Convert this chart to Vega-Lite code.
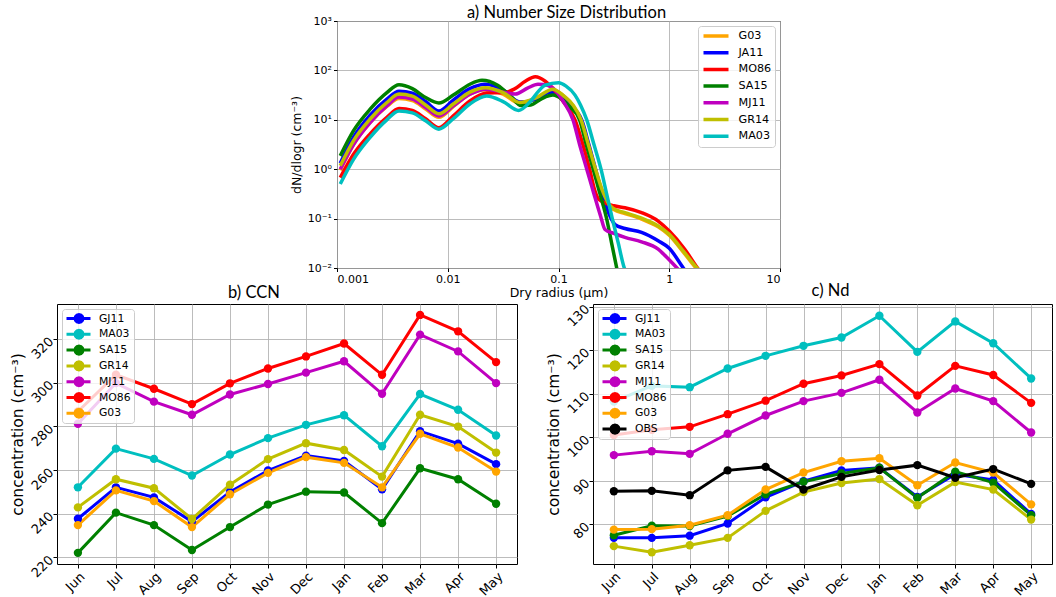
{
  "$schema": "https://vega.github.io/schema/vega-lite/v6.json",
  "padding": {"left": 9, "top": 4, "right": 2, "bottom": 2},
  "config": {
    "view": {"stroke": "black", "strokeWidth": 1},
    "font": "DejaVu Sans",
    "axis": {"gridColor": "#b0b0b0", "gridOpacity": 0.85, "gridWidth": 1, "domain": false, "tickColor": "black", "tickSize": 4, "labelColor": "black", "titleColor": "black", "labelFont": "DejaVu Sans", "titleFont": "DejaVu Sans", "titleFontWeight": "normal", "labelFontSize": 13, "titleFontSize": 15.5},
    "title": {"font": "Lato", "fontSize": 16.5, "fontWeight": "normal", "color": "black", "offset": 3},
    "legend": {"title": null, "padding": 3, "fillColor": "rgba(255,255,255,0.8)", "strokeColor": "#cccccc", "cornerRadius": 3, "labelFont": "DejaVu Sans", "labelColor": "black", "labelFontSize": 10.8, "clipHeight": 13}
  },
  "datasets": {
    "nsd": [
      {"model": "G03", "r": 0.00107, "N": 0.955}, {"model": "G03", "r": 0.00141, "N": 3.16}, {"model": "G03", "r": 0.002, "N": 8.91}, {"model": "G03", "r": 0.00282, "N": 18.6}, {"model": "G03", "r": 0.00363, "N": 26.9}, {"model": "G03", "r": 0.00479, "N": 24.5}, {"model": "G03", "r": 0.00631, "N": 16.6}, {"model": "G03", "r": 0.00832, "N": 11.2}, {"model": "G03", "r": 0.01122, "N": 18.6}, {"model": "G03", "r": 0.01585, "N": 33.1}, {"model": "G03", "r": 0.0219, "N": 40.7}, {"model": "G03", "r": 0.0316, "N": 33.1}, {"model": "G03", "r": 0.0447, "N": 21.4}, {"model": "G03", "r": 0.0631, "N": 26.9}, {"model": "G03", "r": 0.0891, "N": 39.8}, {"model": "G03", "r": 0.112, "N": 30.2}, {"model": "G03", "r": 0.135, "N": 19.1}, {"model": "G03", "r": 0.16, "N": 9.55}, {"model": "G03", "r": 0.186, "N": 3.0}, {"model": "G03", "r": 0.214, "N": 0.955}, {"model": "G03", "r": 0.251, "N": 0.34}, {"model": "G03", "r": 0.295, "N": 0.17}, {"model": "G03", "r": 0.316, "N": 0.152}, {"model": "G03", "r": 0.398, "N": 0.127}, {"model": "G03", "r": 0.562, "N": 0.098}, {"model": "G03", "r": 0.794, "N": 0.068}, {"model": "G03", "r": 1.0, "N": 0.046}, {"model": "G03", "r": 1.34, "N": 0.021}, {"model": "G03", "r": 1.76, "N": 0.0098}, {"model": "G03", "r": 1.9, "N": 0.0083},
      {"model": "JA11", "r": 0.00107, "N": 1.32}, {"model": "JA11", "r": 0.00141, "N": 4.47}, {"model": "JA11", "r": 0.002, "N": 12.6}, {"model": "JA11", "r": 0.00282, "N": 26.3}, {"model": "JA11", "r": 0.00363, "N": 38.0}, {"model": "JA11", "r": 0.00479, "N": 34.7}, {"model": "JA11", "r": 0.00631, "N": 23.4}, {"model": "JA11", "r": 0.00832, "N": 15.1}, {"model": "JA11", "r": 0.01122, "N": 25.1}, {"model": "JA11", "r": 0.01585, "N": 42.7}, {"model": "JA11", "r": 0.0219, "N": 52.5}, {"model": "JA11", "r": 0.0316, "N": 39.8}, {"model": "JA11", "r": 0.0447, "N": 22.9}, {"model": "JA11", "r": 0.0631, "N": 26.3}, {"model": "JA11", "r": 0.0832, "N": 35.5}, {"model": "JA11", "r": 0.1, "N": 33.1}, {"model": "JA11", "r": 0.12, "N": 22.4}, {"model": "JA11", "r": 0.162, "N": 10}, {"model": "JA11", "r": 0.188, "N": 3.16}, {"model": "JA11", "r": 0.216, "N": 1.0}, {"model": "JA11", "r": 0.245, "N": 0.355}, {"model": "JA11", "r": 0.272, "N": 0.166}, {"model": "JA11", "r": 0.324, "N": 0.0759}, {"model": "JA11", "r": 0.398, "N": 0.0631}, {"model": "JA11", "r": 0.562, "N": 0.0525}, {"model": "JA11", "r": 0.794, "N": 0.0355}, {"model": "JA11", "r": 1.0, "N": 0.0251}, {"model": "JA11", "r": 1.34, "N": 0.01}, {"model": "JA11", "r": 1.45, "N": 0.0079},
      {"model": "MO86", "r": 0.00107, "N": 0.676}, {"model": "MO86", "r": 0.00141, "N": 2.0}, {"model": "MO86", "r": 0.002, "N": 5.25}, {"model": "MO86", "r": 0.00282, "N": 11.2}, {"model": "MO86", "r": 0.00363, "N": 17.0}, {"model": "MO86", "r": 0.00479, "N": 15.5}, {"model": "MO86", "r": 0.00631, "N": 10.5}, {"model": "MO86", "r": 0.00832, "N": 6.92}, {"model": "MO86", "r": 0.01122, "N": 12.0}, {"model": "MO86", "r": 0.01585, "N": 24.0}, {"model": "MO86", "r": 0.0224, "N": 34.7}, {"model": "MO86", "r": 0.0316, "N": 35.5}, {"model": "MO86", "r": 0.0398, "N": 41.7}, {"model": "MO86", "r": 0.0501, "N": 60.3}, {"model": "MO86", "r": 0.0617, "N": 74.1}, {"model": "MO86", "r": 0.0759, "N": 60.3}, {"model": "MO86", "r": 0.0933, "N": 38.0}, {"model": "MO86", "r": 0.112, "N": 22.4}, {"model": "MO86", "r": 0.141, "N": 10}, {"model": "MO86", "r": 0.166, "N": 3.16}, {"model": "MO86", "r": 0.191, "N": 1.0}, {"model": "MO86", "r": 0.214, "N": 0.355}, {"model": "MO86", "r": 0.229, "N": 0.251}, {"model": "MO86", "r": 0.316, "N": 0.182}, {"model": "MO86", "r": 0.398, "N": 0.166}, {"model": "MO86", "r": 0.562, "N": 0.132}, {"model": "MO86", "r": 0.794, "N": 0.0891}, {"model": "MO86", "r": 1.0, "N": 0.0562}, {"model": "MO86", "r": 1.38, "N": 0.024}, {"model": "MO86", "r": 1.8, "N": 0.01}, {"model": "MO86", "r": 1.9, "N": 0.0085},
      {"model": "SA15", "r": 0.00107, "N": 1.86}, {"model": "SA15", "r": 0.00141, "N": 6.03}, {"model": "SA15", "r": 0.002, "N": 16.6}, {"model": "SA15", "r": 0.00282, "N": 35.5}, {"model": "SA15", "r": 0.00363, "N": 51.3}, {"model": "SA15", "r": 0.00479, "N": 42.7}, {"model": "SA15", "r": 0.00631, "N": 28.2}, {"model": "SA15", "r": 0.00832, "N": 21.9}, {"model": "SA15", "r": 0.01122, "N": 31.6}, {"model": "SA15", "r": 0.01585, "N": 52.5}, {"model": "SA15", "r": 0.0204, "N": 63.1}, {"model": "SA15", "r": 0.0282, "N": 50.1}, {"model": "SA15", "r": 0.038, "N": 28.2}, {"model": "SA15", "r": 0.0457, "N": 19.5}, {"model": "SA15", "r": 0.0562, "N": 20.0}, {"model": "SA15", "r": 0.0708, "N": 26.9}, {"model": "SA15", "r": 0.0891, "N": 31.6}, {"model": "SA15", "r": 0.107, "N": 26.3}, {"model": "SA15", "r": 0.126, "N": 18.6}, {"model": "SA15", "r": 0.155, "N": 10}, {"model": "SA15", "r": 0.178, "N": 3.16}, {"model": "SA15", "r": 0.206, "N": 1.0}, {"model": "SA15", "r": 0.237, "N": 0.316}, {"model": "SA15", "r": 0.272, "N": 0.1}, {"model": "SA15", "r": 0.302, "N": 0.0316}, {"model": "SA15", "r": 0.339, "N": 0.0089},
      {"model": "MJ11", "r": 0.00107, "N": 1.0}, {"model": "MJ11", "r": 0.00141, "N": 3.16}, {"model": "MJ11", "r": 0.002, "N": 8.91}, {"model": "MJ11", "r": 0.00282, "N": 19.1}, {"model": "MJ11", "r": 0.00363, "N": 28.8}, {"model": "MJ11", "r": 0.00479, "N": 26.3}, {"model": "MJ11", "r": 0.00631, "N": 17.8}, {"model": "MJ11", "r": 0.00832, "N": 12.0}, {"model": "MJ11", "r": 0.01122, "N": 19.1}, {"model": "MJ11", "r": 0.01585, "N": 33.1}, {"model": "MJ11", "r": 0.0224, "N": 41.7}, {"model": "MJ11", "r": 0.0316, "N": 36.3}, {"model": "MJ11", "r": 0.0407, "N": 33.1}, {"model": "MJ11", "r": 0.0525, "N": 43.7}, {"model": "MJ11", "r": 0.0653, "N": 52.5}, {"model": "MJ11", "r": 0.0794, "N": 50.1}, {"model": "MJ11", "r": 0.0933, "N": 39.8}, {"model": "MJ11", "r": 0.112, "N": 22.4}, {"model": "MJ11", "r": 0.135, "N": 10}, {"model": "MJ11", "r": 0.155, "N": 3.16}, {"model": "MJ11", "r": 0.18, "N": 1.0}, {"model": "MJ11", "r": 0.209, "N": 0.316}, {"model": "MJ11", "r": 0.24, "N": 0.112}, {"model": "MJ11", "r": 0.263, "N": 0.0603}, {"model": "MJ11", "r": 0.316, "N": 0.0501}, {"model": "MJ11", "r": 0.398, "N": 0.0417}, {"model": "MJ11", "r": 0.562, "N": 0.0339}, {"model": "MJ11", "r": 0.794, "N": 0.024}, {"model": "MJ11", "r": 0.891, "N": 0.019}, {"model": "MJ11", "r": 1.175, "N": 0.01}, {"model": "MJ11", "r": 1.3, "N": 0.0079},
      {"model": "GR14", "r": 0.00107, "N": 1.17}, {"model": "GR14", "r": 0.00141, "N": 3.8}, {"model": "GR14", "r": 0.002, "N": 10.5}, {"model": "GR14", "r": 0.00282, "N": 22.4}, {"model": "GR14", "r": 0.00363, "N": 33.1}, {"model": "GR14", "r": 0.00479, "N": 30.2}, {"model": "GR14", "r": 0.00631, "N": 20.0}, {"model": "GR14", "r": 0.00832, "N": 13.2}, {"model": "GR14", "r": 0.01122, "N": 20.9}, {"model": "GR14", "r": 0.01585, "N": 36.3}, {"model": "GR14", "r": 0.0219, "N": 44.7}, {"model": "GR14", "r": 0.0316, "N": 35.5}, {"model": "GR14", "r": 0.0447, "N": 22.4}, {"model": "GR14", "r": 0.0631, "N": 28.2}, {"model": "GR14", "r": 0.0891, "N": 41.7}, {"model": "GR14", "r": 0.112, "N": 30.2}, {"model": "GR14", "r": 0.135, "N": 20.0}, {"model": "GR14", "r": 0.16, "N": 10}, {"model": "GR14", "r": 0.186, "N": 3.16}, {"model": "GR14", "r": 0.216, "N": 1.0}, {"model": "GR14", "r": 0.251, "N": 0.355}, {"model": "GR14", "r": 0.295, "N": 0.178}, {"model": "GR14", "r": 0.316, "N": 0.158}, {"model": "GR14", "r": 0.398, "N": 0.132}, {"model": "GR14", "r": 0.562, "N": 0.102}, {"model": "GR14", "r": 0.794, "N": 0.0708}, {"model": "GR14", "r": 1.0, "N": 0.0479}, {"model": "GR14", "r": 1.34, "N": 0.0219}, {"model": "GR14", "r": 1.78, "N": 0.01}, {"model": "GR14", "r": 1.9, "N": 0.0085},
      {"model": "MA03", "r": 0.00107, "N": 0.5}, {"model": "MA03", "r": 0.00141, "N": 1.58}, {"model": "MA03", "r": 0.002, "N": 4.47}, {"model": "MA03", "r": 0.00282, "N": 10}, {"model": "MA03", "r": 0.00363, "N": 15.1}, {"model": "MA03", "r": 0.00479, "N": 13.8}, {"model": "MA03", "r": 0.00631, "N": 9.55}, {"model": "MA03", "r": 0.00832, "N": 6.46}, {"model": "MA03", "r": 0.01122, "N": 10.5}, {"model": "MA03", "r": 0.01585, "N": 20.9}, {"model": "MA03", "r": 0.0224, "N": 30.2}, {"model": "MA03", "r": 0.0316, "N": 23.4}, {"model": "MA03", "r": 0.0437, "N": 15.5}, {"model": "MA03", "r": 0.0562, "N": 24.0}, {"model": "MA03", "r": 0.0661, "N": 38.0}, {"model": "MA03", "r": 0.0759, "N": 50.1}, {"model": "MA03", "r": 0.1, "N": 56.2}, {"model": "MA03", "r": 0.117, "N": 47.9}, {"model": "MA03", "r": 0.141, "N": 31.6}, {"model": "MA03", "r": 0.158, "N": 20.0}, {"model": "MA03", "r": 0.18, "N": 10}, {"model": "MA03", "r": 0.209, "N": 3.16}, {"model": "MA03", "r": 0.242, "N": 1.0}, {"model": "MA03", "r": 0.272, "N": 0.316}, {"model": "MA03", "r": 0.306, "N": 0.1}, {"model": "MA03", "r": 0.347, "N": 0.0316}, {"model": "MA03", "r": 0.393, "N": 0.01}, {"model": "MA03", "r": 0.42, "N": 0.0075}
    ],
    "ccn": [
      {"model": "GJ11", "month": "Jun", "value": 237.7}, {"model": "GJ11", "month": "Jul", "value": 252.1}, {"model": "GJ11", "month": "Aug", "value": 247.5}, {"model": "GJ11", "month": "Sep", "value": 236.4}, {"model": "GJ11", "month": "Oct", "value": 250.0}, {"model": "GJ11", "month": "Nov", "value": 259.8}, {"model": "GJ11", "month": "Dec", "value": 266.6}, {"model": "GJ11", "month": "Jan", "value": 264.2}, {"model": "GJ11", "month": "Feb", "value": 251.2}, {"model": "GJ11", "month": "Mar", "value": 277.8}, {"model": "GJ11", "month": "Apr", "value": 272.1}, {"model": "GJ11", "month": "May", "value": 262.7},
      {"model": "MA03", "month": "Jun", "value": 252.1}, {"model": "MA03", "month": "Jul", "value": 269.8}, {"model": "MA03", "month": "Aug", "value": 265.1}, {"model": "MA03", "month": "Sep", "value": 257.5}, {"model": "MA03", "month": "Oct", "value": 267.1}, {"model": "MA03", "month": "Nov", "value": 274.6}, {"model": "MA03", "month": "Dec", "value": 280.7}, {"model": "MA03", "month": "Jan", "value": 285.1}, {"model": "MA03", "month": "Feb", "value": 270.9}, {"model": "MA03", "month": "Mar", "value": 294.8}, {"model": "MA03", "month": "Apr", "value": 287.6}, {"model": "MA03", "month": "May", "value": 275.8},
      {"model": "SA15", "month": "Jun", "value": 222.1}, {"model": "SA15", "month": "Jul", "value": 240.5}, {"model": "SA15", "month": "Aug", "value": 234.8}, {"model": "SA15", "month": "Sep", "value": 223.4}, {"model": "SA15", "month": "Oct", "value": 233.9}, {"model": "SA15", "month": "Nov", "value": 244.2}, {"model": "SA15", "month": "Dec", "value": 250.1}, {"model": "SA15", "month": "Jan", "value": 249.7}, {"model": "SA15", "month": "Feb", "value": 235.7}, {"model": "SA15", "month": "Mar", "value": 260.8}, {"model": "SA15", "month": "Apr", "value": 255.8}, {"model": "SA15", "month": "May", "value": 244.6},
      {"model": "GR14", "month": "Jun", "value": 242.9}, {"model": "GR14", "month": "Jul", "value": 255.8}, {"model": "GR14", "month": "Aug", "value": 251.7}, {"model": "GR14", "month": "Sep", "value": 237.6}, {"model": "GR14", "month": "Oct", "value": 253.3}, {"model": "GR14", "month": "Nov", "value": 265.0}, {"model": "GR14", "month": "Dec", "value": 272.3}, {"model": "GR14", "month": "Jan", "value": 269.2}, {"model": "GR14", "month": "Feb", "value": 257.0}, {"model": "GR14", "month": "Mar", "value": 285.3}, {"model": "GR14", "month": "Apr", "value": 279.9}, {"model": "GR14", "month": "May", "value": 268.0},
      {"model": "MJ11", "month": "Jun", "value": 281.2}, {"model": "MJ11", "month": "Jul", "value": 299.8}, {"model": "MJ11", "month": "Aug", "value": 291.3}, {"model": "MJ11", "month": "Sep", "value": 285.3}, {"model": "MJ11", "month": "Oct", "value": 294.6}, {"model": "MJ11", "month": "Nov", "value": 299.4}, {"model": "MJ11", "month": "Dec", "value": 304.6}, {"model": "MJ11", "month": "Jan", "value": 309.8}, {"model": "MJ11", "month": "Feb", "value": 294.9}, {"model": "MJ11", "month": "Mar", "value": 322.0}, {"model": "MJ11", "month": "Apr", "value": 314.3}, {"model": "MJ11", "month": "May", "value": 299.8},
      {"model": "MO86", "month": "Jun", "value": 286.8}, {"model": "MO86", "month": "Jul", "value": 303.6}, {"model": "MO86", "month": "Aug", "value": 297.2}, {"model": "MO86", "month": "Sep", "value": 290.2}, {"model": "MO86", "month": "Oct", "value": 299.7}, {"model": "MO86", "month": "Nov", "value": 306.5}, {"model": "MO86", "month": "Dec", "value": 312.0}, {"model": "MO86", "month": "Jan", "value": 317.9}, {"model": "MO86", "month": "Feb", "value": 303.6}, {"model": "MO86", "month": "Mar", "value": 331.0}, {"model": "MO86", "month": "Apr", "value": 323.5}, {"model": "MO86", "month": "May", "value": 309.4},
      {"model": "G03", "month": "Jun", "value": 234.8}, {"model": "G03", "month": "Jul", "value": 250.7}, {"model": "G03", "month": "Aug", "value": 245.8}, {"model": "G03", "month": "Sep", "value": 233.9}, {"model": "G03", "month": "Oct", "value": 248.9}, {"model": "G03", "month": "Nov", "value": 258.7}, {"model": "G03", "month": "Dec", "value": 265.9}, {"model": "G03", "month": "Jan", "value": 263.3}, {"model": "G03", "month": "Feb", "value": 252.1}, {"model": "G03", "month": "Mar", "value": 276.6}, {"model": "G03", "month": "Apr", "value": 270.3}, {"model": "G03", "month": "May", "value": 259.3}
    ],
    "nd": [
      {"model": "GJ11", "month": "Jun", "value": 76.9}, {"model": "GJ11", "month": "Jul", "value": 76.9}, {"model": "GJ11", "month": "Aug", "value": 77.4}, {"model": "GJ11", "month": "Sep", "value": 80.2}, {"model": "GJ11", "month": "Oct", "value": 86.2}, {"model": "GJ11", "month": "Nov", "value": 89.9}, {"model": "GJ11", "month": "Dec", "value": 92.4}, {"model": "GJ11", "month": "Jan", "value": 93.0}, {"model": "GJ11", "month": "Feb", "value": 86.3}, {"model": "GJ11", "month": "Mar", "value": 91.5}, {"model": "GJ11", "month": "Apr", "value": 90.2}, {"model": "GJ11", "month": "May", "value": 82.4},
      {"model": "MA03", "month": "Jun", "value": 108.2}, {"model": "MA03", "month": "Jul", "value": 111.8}, {"model": "MA03", "month": "Aug", "value": 111.5}, {"model": "MA03", "month": "Sep", "value": 115.8}, {"model": "MA03", "month": "Oct", "value": 118.7}, {"model": "MA03", "month": "Nov", "value": 121.0}, {"model": "MA03", "month": "Dec", "value": 122.9}, {"model": "MA03", "month": "Jan", "value": 127.9}, {"model": "MA03", "month": "Feb", "value": 119.6}, {"model": "MA03", "month": "Mar", "value": 126.6}, {"model": "MA03", "month": "Apr", "value": 121.6}, {"model": "MA03", "month": "May", "value": 113.5},
      {"model": "SA15", "month": "Jun", "value": 77.5}, {"model": "SA15", "month": "Jul", "value": 79.7}, {"model": "SA15", "month": "Aug", "value": 79.6}, {"model": "SA15", "month": "Sep", "value": 81.9}, {"model": "SA15", "month": "Oct", "value": 86.9}, {"model": "SA15", "month": "Nov", "value": 89.8}, {"model": "SA15", "month": "Dec", "value": 91.7}, {"model": "SA15", "month": "Jan", "value": 93.0}, {"model": "SA15", "month": "Feb", "value": 86.1}, {"model": "SA15", "month": "Mar", "value": 92.1}, {"model": "SA15", "month": "Apr", "value": 89.6}, {"model": "SA15", "month": "May", "value": 82.1},
      {"model": "GR14", "month": "Jun", "value": 75.0}, {"model": "GR14", "month": "Jul", "value": 73.6}, {"model": "GR14", "month": "Aug", "value": 75.2}, {"model": "GR14", "month": "Sep", "value": 76.9}, {"model": "GR14", "month": "Oct", "value": 83.1}, {"model": "GR14", "month": "Nov", "value": 87.4}, {"model": "GR14", "month": "Dec", "value": 89.5}, {"model": "GR14", "month": "Jan", "value": 90.4}, {"model": "GR14", "month": "Feb", "value": 84.4}, {"model": "GR14", "month": "Mar", "value": 89.7}, {"model": "GR14", "month": "Apr", "value": 88.0}, {"model": "GR14", "month": "May", "value": 81.1},
      {"model": "MJ11", "month": "Jun", "value": 95.9}, {"model": "MJ11", "month": "Jul", "value": 96.8}, {"model": "MJ11", "month": "Aug", "value": 96.2}, {"model": "MJ11", "month": "Sep", "value": 100.8}, {"model": "MJ11", "month": "Oct", "value": 105.0}, {"model": "MJ11", "month": "Nov", "value": 108.3}, {"model": "MJ11", "month": "Dec", "value": 110.2}, {"model": "MJ11", "month": "Jan", "value": 113.2}, {"model": "MJ11", "month": "Feb", "value": 105.7}, {"model": "MJ11", "month": "Mar", "value": 111.2}, {"model": "MJ11", "month": "Apr", "value": 108.3}, {"model": "MJ11", "month": "May", "value": 101.1},
      {"model": "MO86", "month": "Jun", "value": 100.5}, {"model": "MO86", "month": "Jul", "value": 101.7}, {"model": "MO86", "month": "Aug", "value": 102.4}, {"model": "MO86", "month": "Sep", "value": 105.3}, {"model": "MO86", "month": "Oct", "value": 108.4}, {"model": "MO86", "month": "Nov", "value": 112.3}, {"model": "MO86", "month": "Dec", "value": 114.2}, {"model": "MO86", "month": "Jan", "value": 116.8}, {"model": "MO86", "month": "Feb", "value": 109.6}, {"model": "MO86", "month": "Mar", "value": 116.4}, {"model": "MO86", "month": "Apr", "value": 114.3}, {"model": "MO86", "month": "May", "value": 107.9},
      {"model": "G03", "month": "Jun", "value": 78.8}, {"model": "G03", "month": "Jul", "value": 78.9}, {"model": "G03", "month": "Aug", "value": 79.8}, {"model": "G03", "month": "Sep", "value": 82.1}, {"model": "G03", "month": "Oct", "value": 88.0}, {"model": "G03", "month": "Nov", "value": 91.9}, {"model": "G03", "month": "Dec", "value": 94.5}, {"model": "G03", "month": "Jan", "value": 95.2}, {"model": "G03", "month": "Feb", "value": 89.0}, {"model": "G03", "month": "Mar", "value": 94.2}, {"model": "G03", "month": "Apr", "value": 91.9}, {"model": "G03", "month": "May", "value": 84.6},
      {"model": "OBS", "month": "Jun", "value": 87.6}, {"model": "OBS", "month": "Jul", "value": 87.7}, {"model": "OBS", "month": "Aug", "value": 86.7}, {"model": "OBS", "month": "Sep", "value": 92.4}, {"model": "OBS", "month": "Oct", "value": 93.2}, {"model": "OBS", "month": "Nov", "value": 88.0}, {"model": "OBS", "month": "Dec", "value": 90.9}, {"model": "OBS", "month": "Jan", "value": 92.5}, {"model": "OBS", "month": "Feb", "value": 93.6}, {"model": "OBS", "month": "Mar", "value": 90.7}, {"model": "OBS", "month": "Apr", "value": 92.7}, {"model": "OBS", "month": "May", "value": 89.3}
    ],
    "blank": [{"k": 1}]
  },
  "spacing": -18,
  "resolve": {"scale": {"color": "independent", "x": "independent", "y": "independent"}, "legend": {"color": "independent"}},
  "vconcat": [
    {
      "bounds": "flush",
      "spacing": 20,
      "resolve": {"scale": {"color": "independent", "x": "independent", "y": "independent"}, "legend": {"color": "independent"}},
      "hconcat": [
        {
          "width": 260, "height": 247,
          "view": {"stroke": null},
          "data": {"name": "blank"},
          "mark": {"type": "point", "opacity": 0},
          "encoding": {}
        },
        {
          "width": 443, "height": 247,
          "title": {"text": "a) Number Size Distribution", "offset": -6.5, "dx": 8},
          "data": {"name": "nsd"},
          "mark": {"type": "line", "strokeWidth": 3.5, "interpolate": "monotone", "clip": true},
          "encoding": {
            "x": {"field": "r", "type": "quantitative", "scale": {"type": "log", "domain": [0.001, 10], "nice": false},
                  "axis": {"values": [0.001, 0.01, 0.1, 1, 10], "format": "~g", "title": "Dry radius (μm)", "labelFontSize": 11, "titleFontSize": 12.5, "titlePadding": 2, "tickSize": 3.5, "labelPadding": 2}},
            "y": {"field": "N", "type": "quantitative", "scale": {"type": "log", "domain": [0.01, 1000], "nice": false},
                  "axis": {"values": [0.01, 0.1, 1, 10, 100, 1000], "labelExpr": "datum.value >= 999 ? '10³' : datum.value >= 99 ? '10²' : datum.value >= 9 ? '10¹' : datum.value >= 0.9 ? '10⁰' : datum.value >= 0.09 ? '10⁻¹' : '10⁻²'", "title": "dN/dlogr (cm⁻³)", "labelFontSize": 11, "titleFontSize": 12.5, "tickSize": 3.5, "labelPadding": 2}},
            "color": {"field": "model", "type": "nominal",
                      "scale": {"domain": ["G03", "JA11", "MO86", "SA15", "MJ11", "GR14", "MA03"], "range": ["#FFA500", "#0000FF", "#FF0000", "#008000", "#BF00BF", "#BFBF00", "#00BFBF"]},
                      "legend": {"orient": "top-right", "offset": 5, "padding": 3.5, "labelFontSize": 11.2, "symbolType": "M-1,0L4,0", "symbolSize": 100, "symbolStrokeWidth": 3.5, "labelOffset": 23, "rowPadding": 3.7}}
          }
        }
      ]
    },
    {
      "bounds": "flush",
      "spacing": 76,
      "resolve": {"scale": {"color": "independent", "x": "independent", "y": "independent"}, "legend": {"color": "independent"}},
      "hconcat": [
        {
          "width": 460, "height": 260,
          "title": {"text": "b) CCN", "dx": -33},
          "data": {"name": "ccn"},
          "mark": {"type": "line", "strokeWidth": 3, "point": {"filled": true, "size": 70}},
          "encoding": {
            "x": {"field": "month", "type": "ordinal", "sort": ["Jun", "Jul", "Aug", "Sep", "Oct", "Nov", "Dec", "Jan", "Feb", "Mar", "Apr", "May"],
                  "scale": {"type": "point", "padding": 0.55},
                  "axis": {"title": null, "labelAngle": -45, "grid": true}},
            "y": {"field": "value", "type": "quantitative", "scale": {"domain": [217, 336], "nice": false, "zero": false},
                  "axis": {"values": [220, 240, 260, 280, 300, 320], "labelAngle": -45, "title": "concentration (cm⁻³)"}},
            "color": {"field": "model", "type": "nominal",
                      "scale": {"domain": ["GJ11", "MA03", "SA15", "GR14", "MJ11", "MO86", "G03"], "range": ["#0000FF", "#00BFBF", "#008000", "#BFBF00", "#BF00BF", "#FF0000", "#FFA500"]},
                      "legend": {"orient": "top-left", "offset": 5, "symbolType": "M-1,0L3.8,0M2.3,0L2.19,0.4L1.9,0.69L1.5,0.8L1.1,0.69L0.81,0.4L0.7,0L0.81,-0.4L1.1,-0.69L1.5,-0.8L1.9,-0.69L2.19,-0.4ZM1.8,0L1.5,0.3L1.2,0L1.5,-0.3Z", "symbolSize": 100, "symbolStrokeWidth": 3, "labelOffset": 21, "rowPadding": 2.8}}
          }
        },
        {
          "width": 459, "height": 260,
          "title": {"text": "c) Nd", "dx": 8},
          "data": {"name": "nd"},
          "mark": {"type": "line", "strokeWidth": 3, "point": {"filled": true, "size": 70}},
          "encoding": {
            "x": {"field": "month", "type": "ordinal", "sort": ["Jun", "Jul", "Aug", "Sep", "Oct", "Nov", "Dec", "Jan", "Feb", "Mar", "Apr", "May"],
                  "scale": {"type": "point", "padding": 0.55},
                  "axis": {"title": null, "labelAngle": -45, "grid": true}},
            "y": {"field": "value", "type": "quantitative", "scale": {"domain": [70.9, 130.6], "nice": false, "zero": false},
                  "axis": {"values": [80, 90, 100, 110, 120, 130], "labelAngle": -45, "title": "concentration (cm⁻³)"}},
            "color": {"field": "model", "type": "nominal",
                      "scale": {"domain": ["GJ11", "MA03", "SA15", "GR14", "MJ11", "MO86", "G03", "OBS"], "range": ["#0000FF", "#00BFBF", "#008000", "#BFBF00", "#BF00BF", "#FF0000", "#FFA500", "#000000"]},
                      "legend": {"orient": "top-left", "offset": 5, "symbolType": "M-1,0L3.8,0M2.3,0L2.19,0.4L1.9,0.69L1.5,0.8L1.1,0.69L0.81,0.4L0.7,0L0.81,-0.4L1.1,-0.69L1.5,-0.8L1.9,-0.69L2.19,-0.4ZM1.8,0L1.5,0.3L1.2,0L1.5,-0.3Z", "symbolSize": 100, "symbolStrokeWidth": 3, "labelOffset": 21, "rowPadding": 2.8}}
          }
        }
      ]
    }
  ]
}
